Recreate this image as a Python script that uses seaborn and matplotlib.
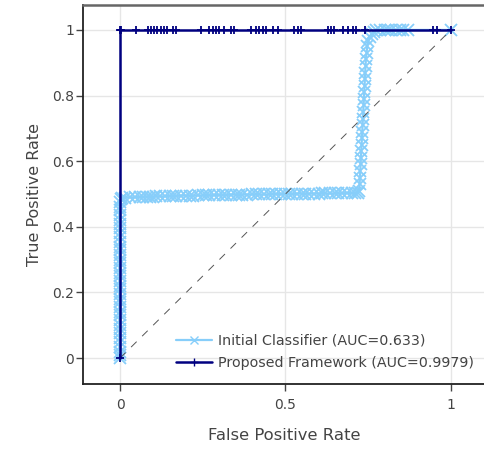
import matplotlib
matplotlib.use("Agg")
import matplotlib.pyplot as plt
import seaborn as sns
import pandas as pd

# ROC points
init_fpr = [0, 0, 0, 0, 0, 0, 0, 0, 0, 0, 0, 0, 0, 0, 0, 0, 0, 0, 0, 0,
            0, 0, 0, 0, 0, 0, 0, 0, 0, 0, 0, 0, 0, 0, 0, 0, 0, 0.002,
            0.005, 0.015, 0.03, 0.045, 0.06, 0.07, 0.08, 0.09, 0.10, 0.11,
            0.12, 0.135, 0.15, 0.16, 0.17, 0.185, 0.20, 0.21, 0.22, 0.235,
            0.25, 0.26, 0.27, 0.285, 0.30, 0.31, 0.32, 0.335, 0.35, 0.36,
            0.37, 0.385, 0.40, 0.41, 0.42, 0.435, 0.45, 0.46, 0.47, 0.485,
            0.50, 0.51, 0.52, 0.535, 0.55, 0.56, 0.57, 0.585, 0.60, 0.61,
            0.62, 0.635, 0.65, 0.66, 0.67, 0.685, 0.70, 0.71, 0.72,
            0.722, 0.724, 0.725, 0.726, 0.727, 0.728, 0.729, 0.730, 0.731,
            0.732, 0.733, 0.734, 0.735, 0.736, 0.737, 0.738, 0.739, 0.740,
            0.741, 0.742, 0.743, 0.745, 0.747, 0.750, 0.754, 0.760, 0.767,
            0.775, 0.785, 0.80, 0.81, 0.82, 0.835, 0.845, 0.855, 0.87, 1.0]
init_tpr = [0, 0.01, 0.02, 0.035, 0.05, 0.06, 0.075, 0.09, 0.10, 0.115,
            0.13, 0.14, 0.155, 0.17, 0.18, 0.195, 0.21, 0.22, 0.235, 0.25,
            0.26, 0.275, 0.29, 0.30, 0.315, 0.33, 0.34, 0.355, 0.37, 0.38,
            0.395, 0.41, 0.42, 0.435, 0.45, 0.46, 0.475, 0.485,
            0.488, 0.489, 0.490, 0.490, 0.491, 0.491, 0.492, 0.492, 0.492,
            0.493, 0.493, 0.493, 0.494, 0.494, 0.494, 0.495, 0.495, 0.495,
            0.495, 0.496, 0.496, 0.496, 0.496, 0.497, 0.497, 0.497, 0.497,
            0.498, 0.498, 0.498, 0.498, 0.498, 0.499, 0.499, 0.499, 0.499,
            0.499, 0.500, 0.500, 0.500, 0.500, 0.500, 0.500, 0.501, 0.501,
            0.501, 0.501, 0.501, 0.501, 0.502, 0.502, 0.502, 0.502, 0.502,
            0.502, 0.503, 0.503, 0.503, 0.504,
            0.51, 0.53, 0.55, 0.57, 0.59, 0.61, 0.63, 0.65, 0.67, 0.69,
            0.71, 0.73, 0.75, 0.77, 0.79, 0.81, 0.83, 0.85, 0.87, 0.89,
            0.91, 0.93, 0.95, 0.965, 0.978, 0.988, 0.995, 0.999, 1.0, 1.0,
            1.0, 1.0, 1.0, 1.0, 1.0, 1.0, 1.0]

prop_fpr = [0, 0, 0.004, 0.047, 0.083, 0.093, 0.103, 0.113, 0.123, 0.133,
            0.143, 0.159, 0.169, 0.244, 0.270, 0.280, 0.290, 0.300, 0.315,
            0.335, 0.345, 0.396, 0.411, 0.421, 0.431, 0.441, 0.462, 0.477,
            0.527, 0.537, 0.547, 0.628, 0.638, 0.648, 0.674, 0.689, 0.704,
            0.714, 0.739, 0.946, 0.958, 1.0]
prop_tpr = [0, 1.0, 1.0, 1.0, 1.0, 1.0, 1.0, 1.0, 1.0, 1.0, 1.0, 1.0, 1.0,
            1.0, 1.0, 1.0, 1.0, 1.0, 1.0, 1.0, 1.0, 1.0, 1.0, 1.0, 1.0, 1.0,
            1.0, 1.0, 1.0, 1.0, 1.0, 1.0, 1.0, 1.0, 1.0, 1.0, 1.0, 1.0, 1.0,
            1.0, 1.0, 1.0]

labels = ["Initial Classifier (AUC=0.633)", "Proposed Framework (AUC=0.9979)"]
x_ticks = [0, 0.5, 1]
x_ticklabels = ["0", "0.5", "1"]
y_ticks = [0, 0.2, 0.4, 0.6, 0.8, 1]
y_ticklabels = ["0", "0.2", "0.4", "0.6", "0.8", "1"]

sns.set_style("white")
plt.rcParams["font.family"] = ["DejaVu Sans"]

fig = plt.figure(figsize=(4.85, 4.51), dpi=100)
ax = fig.add_axes([83 / 485, 67 / 451, 402 / 485, 379 / 451])

init_df = pd.DataFrame({"fpr": init_fpr, "tpr": init_tpr})
prop_df = pd.DataFrame({"fpr": prop_fpr, "tpr": prop_tpr})

light, dark = "#87CEFA", "#000080"
sns.lineplot(data=init_df, x="fpr", y="tpr", sort=False, estimator=None,
             color=light, marker="x", markersize=8, markeredgewidth=1.3,
             markeredgecolor=light, linewidth=1.6, label=labels[0], ax=ax,
             zorder=3)
ax.plot([0, 1], [0, 1], color="#555555", linestyle=(0, (8, 8)),
        linewidth=0.7, zorder=4)
sns.lineplot(data=prop_df, x="fpr", y="tpr", sort=False, estimator=None,
             color=dark, marker="+", markersize=6, markeredgewidth=1.3,
             markeredgecolor=dark, linewidth=1.8, label=labels[1], ax=ax,
             zorder=5)

ax.set_xlim(-0.112, 1.103)
ax.set_ylim(-0.079, 1.076)
ax.set_xticks(x_ticks)
ax.set_xticklabels(x_ticklabels)
ax.set_yticks(y_ticks)
ax.set_yticklabels(y_ticklabels)
ax.grid(True, color="#e6e6e6", linewidth=1)
ax.set_axisbelow(True)

ax.tick_params(axis="both", direction="out", length=5, width=1,
               colors="#444444", labelsize=10, left=True, bottom=True)
ax.tick_params(axis="x", pad=5)
ax.tick_params(axis="y", pad=1.5)

for side in ["left", "bottom"]:
    ax.spines[side].set_color("#222222")
    ax.spines[side].set_linewidth(1.3)
ax.spines["top"].set_color("#666666")
ax.spines["top"].set_linewidth(1.8)
ax.spines["right"].set_visible(False)

ax.set_xlabel("False Positive Rate", fontsize=11.8, color="#444444", labelpad=11.5)
ax.set_ylabel("True Positive Rate", fontsize=11.5, color="#444444", labelpad=7)

leg = ax.legend(loc="upper left", bbox_to_anchor=(0.232, 0.132), frameon=False,
                fontsize=10.3, borderpad=0, borderaxespad=0, handlelength=2.5,
                handletextpad=0.45, labelspacing=0.55, labelcolor="#444444")
for handle in leg.legend_handles:
    handle.set_markersize(6)
    handle.set_markeredgewidth(1)

fig.savefig("out.png", dpi=100)
